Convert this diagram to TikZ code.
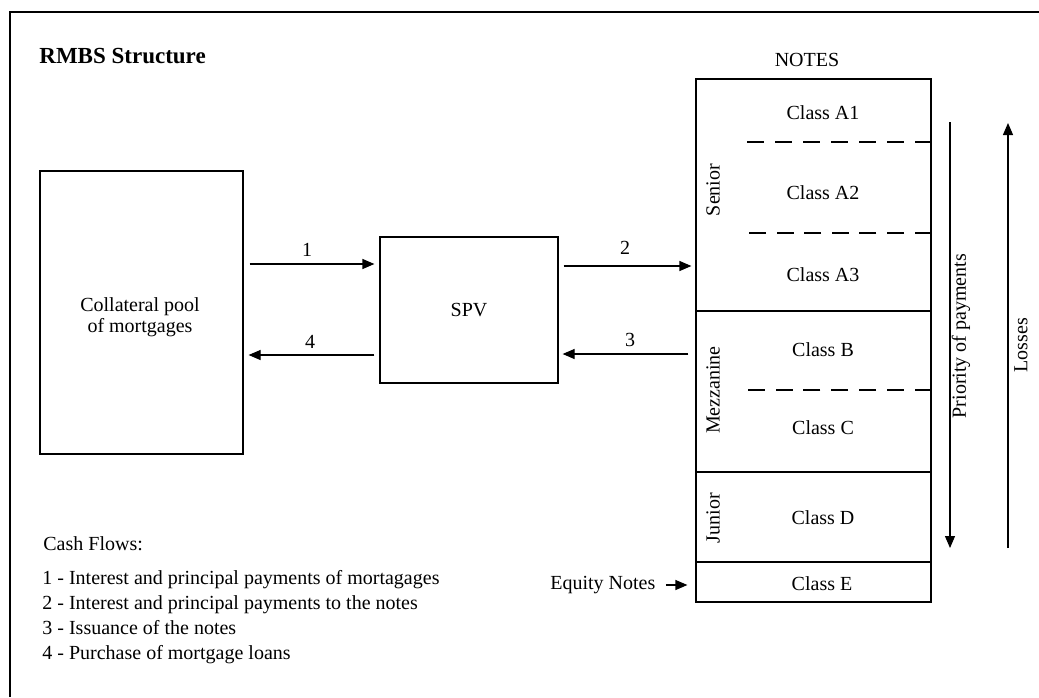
\documentclass[tikz,border=0pt]{standalone}
\usepackage{fontspec}
\setmainfont{Liberation Serif}
\usetikzlibrary{arrows.meta}
\begin{document}
\begin{tikzpicture}[x=0.5pt,y=-0.5pt,
  every node/.style={font=\fontsize{10}{10.5}\selectfont},
  box/.style={draw, line width=0.6pt, inner sep=0pt},
  arr/.style={line width=0.6pt, -{Triangle[length=6pt,width=5pt]}},
  lbl/.style={inner sep=0pt},
  dsh/.style={line width=0.6pt, dash pattern=on 8.5pt off 5.5pt},
  frame/.style={line width=1pt}]
\useasboundingbox (0,0) rectangle (1039,697);
\draw[frame] (10,697) -- (10,12) -- (1039,12);

% title
\node[lbl, anchor=west, font=\bfseries\fontsize{11.5}{14}\selectfont] (title) at (39,56) {RMBS Structure};

% collateral pool
\node[box, minimum width=101.5pt, minimum height=141.5pt] (coll) at (141.5,312.5) {};
\node[lbl, align=center] (colltext) at (140,317) {Collateral pool\\of mortgages};

% SPV
\node[box, minimum width=89pt, minimum height=73pt] (spv) at (469,310) {SPV};

% notes
\node[lbl] (notes) at (807,60) {NOTES};
\node[box, minimum width=117.5pt, minimum height=116pt] (senior) at (813.5,195) {};
\node[box, minimum width=117.5pt, minimum height=80.5pt] (mezz) at (813.5,391.5) {};
\node[box, minimum width=117.5pt, minimum height=45pt] (junior) at (813.5,517) {};
\node[box, minimum width=117.5pt, minimum height=20pt] (classE) at (813.5,582) {};

\node[lbl] (cA1) at (823,113) {Class A1};
\node[lbl] (cA2) at (823,193) {Class A2};
\node[lbl] (cA3) at (823,275) {Class A3};
\node[lbl] (cB) at (823,350) {Class B};
\node[lbl] (cC) at (823,428) {Class C};
\node[lbl] (cD) at (823,518) {Class D};
\node[lbl] (cE) at (822,584) {Class E};

\draw[dsh] (senior.east |- 0,142) -- (742,142);
\draw[dsh, dash pattern=on 8.5pt off 5.3pt] (senior.east |- 0,233) -- (746,233);
\draw[dsh, dash pattern=on 8.5pt off 5.4pt] (mezz.east |- 0,390) -- (744,390);

\node[lbl, rotate=90] (sen) at (713,190) {Senior};
\node[lbl, rotate=90] (mez) at (713,390) {Mezzanine};
\node[lbl, rotate=90] (jun) at (713,518) {Junior};

% priority and losses
\coordinate (p1) at (950,122);
\coordinate (p2) at (950,548);
\draw[arr] (p1) -- (p2);
\node[lbl, rotate=90] (prio) at (961,336) {Priority of payments};
\coordinate (l1) at (1008,548);
\coordinate (l2) at (1008,123);
\draw[arr] (l1) -- (l2);
\node[lbl, rotate=90] (loss) at (1021,345) {Losses};

% flows
\coordinate (y1) at (0,264);
\coordinate (y2) at (0,266);
\coordinate (y3) at (0,354);
\coordinate (y4) at (0,355);
\draw[arr, shorten <=3pt, shorten >=2.5pt] (coll.east |- y1) -- (spv.west |- y1);
\draw[arr, shorten <=2.5pt, shorten >=2pt] (spv.east |- y2) -- (senior.west |- y2);
\draw[arr, shorten <=3.5pt, shorten >=2pt] (mezz.west |- y3) -- (spv.east |- y3);
\draw[arr, shorten <=2.5pt, shorten >=2.5pt] (spv.west |- y4) -- (coll.east |- y4);
\node[lbl] (n1) at (307,250) {1};
\node[lbl] (n2) at (625,248) {2};
\node[lbl] (n3) at (630,340) {3};
\node[lbl] (n4) at (310,342) {4};

% equity notes
\node[lbl, anchor=west] (eq) at (550,585) {Equity Notes};
\draw[arr, shorten <=5pt, shorten >=4pt] (eq.east) -- (classE.west |- eq.east);

% legend
\node[lbl, anchor=base west] (cf) at (43,550) {Cash Flows:};
\node[lbl, anchor=base west] (lg1) at (42,584) {1 - Interest and principal payments of mortagages};
\node[lbl, anchor=base west] (lg2) at (42,609) {2 - Interest and principal payments to the notes};
\node[lbl, anchor=base west] (lg3) at (42,634) {3 - Issuance of the notes};
\node[lbl, anchor=base west] (lg4) at (42,659) {4 - Purchase of mortgage loans};
\end{tikzpicture}
\end{document}
